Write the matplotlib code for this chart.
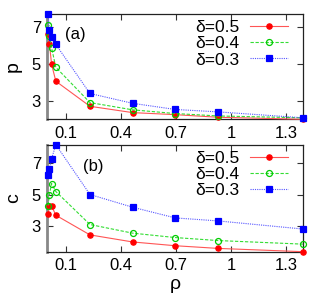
import matplotlib
matplotlib.use("Agg")
import matplotlib.pyplot as plt

plt.rcParams['font.family'] = ['Liberation Sans', 'DejaVu Sans']

rho = [0.0046, 0.0116, 0.0232, 0.0464, 0.232, 0.464, 0.696, 0.928, 1.392]
deltas = ["δ=0.5", "δ=0.4", "δ=0.3"]

p_05 = [6.60, 6.09, 5.00, 4.08, 2.73, 2.39, 2.28, 2.14, 2.03]
p_04 = [7.13, 6.50, 5.88, 4.83, 2.93, 2.54, 2.34, 2.21, 2.11]
p_03 = [7.70, 6.82, 6.45, 6.06, 3.42, 2.89, 2.56, 2.43, 2.11]

c_05 = [3.75, 4.30, 4.28, 3.68, 2.43, 1.98, 1.74, 1.57, 1.36]
c_04 = [4.30, 5.00, 5.70, 5.19, 3.09, 2.54, 2.26, 2.07, 1.84]
c_03 = [6.21, 6.64, 7.27, 8.17, 5.00, 4.19, 3.51, 3.32, 2.80]

xticks = [0.1, 0.4, 0.7, 1.0, 1.3]
xticklabels = ["0.1", "0.4", "0.7", "1", "1.3"]
yticks = [3, 5, 7]

styles = [
    dict(color='#ff0000', lc='#ff5555', ls='-', marker='o', mfc='#ff0000', ms=3.8),
    dict(color='#00cc00', lc='#33dd33', ls=(0, (3, 1.5)), marker='o', mfc='none', ms=4.3),
    dict(color='#0000ff', lc='#5555ff', ls=(0, (1, 1)), marker='s', mfc='#0000ff', ms=4.0),
]

fig = plt.figure(figsize=(3.27, 3.0), dpi=100)
W, H = 327.0, 300.0
ax1 = fig.add_axes([47.3 / W, 1 - 119.3 / H, 256 / W, 105.3 / H])
ax2 = fig.add_axes([47.3 / W, 1 - 251.7 / H, 256 / W, 107.0 / H])

def draw(ax, series, ylab, tag, tagpos, ylim, legy):
    handles = []
    for vals, st, lab in zip(series, styles, deltas):
        h, = ax.plot(rho, vals, color=st['lc'], linestyle=st['ls'], linewidth=0.8,
                     marker=st['marker'], markersize=st['ms'],
                     markerfacecolor=st['mfc'], markeredgecolor=st['color'],
                     markeredgewidth=0.9, label=lab, clip_on=False, zorder=3)
        handles.append(h)
    ax.set_xlim(0.0, 1.392)
    ax.set_ylim(*ylim)
    ax.set_xticks(xticks)
    ax.set_xticklabels(xticklabels)
    ax.set_yticks(yticks)
    ax.tick_params(direction='in', top=True, right=True, length=4, width=0.8,
                   labelsize=12, pad=4.5, color='#333333')
    for s in ['top', 'right', 'bottom']:
        ax.spines[s].set_linewidth(0.9)
        ax.spines[s].set_color('#222222')
    ax.spines['left'].set_linewidth(2.0)
    ax.spines['left'].set_color('#888888')
    ax.set_ylabel(ylab, fontsize=14)
    ax.yaxis.set_label_coords(-0.10, 0.5)
    ax.text(tagpos[0], tagpos[1], tag, transform=ax.transAxes, fontsize=12,
            ha='left', va='center')
    ax.legend(handles=handles, loc='upper right', bbox_to_anchor=(0.94, legy),
              frameon=False, markerfirst=False, fontsize=12.5,
              handlelength=2.2, handletextpad=0.6, labelspacing=0.05,
              borderpad=0.0, borderaxespad=0.0)
    return ax

draw(ax1, [p_05, p_04, p_03], "p", "(a)", (0.07, 0.81), (2.03, 7.70), 0.94)
draw(ax2, [c_05, c_04, c_03], "c", "(b)", (0.14, 0.80), (1.36, 8.17), 0.94)
ax2.set_xlabel("ρ", fontsize=14, labelpad=2)

fig.savefig("out.png", dpi=100)
